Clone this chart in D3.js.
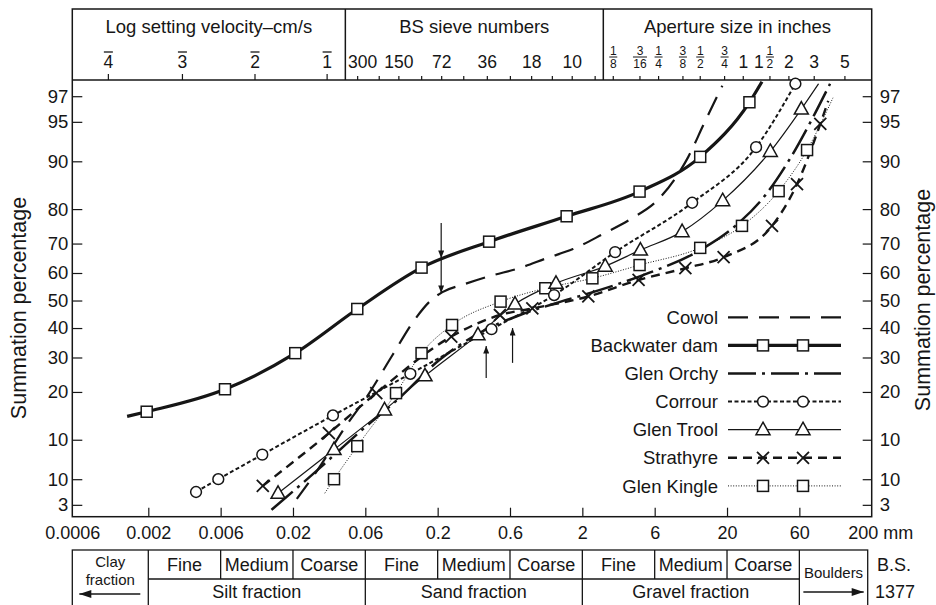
<!DOCTYPE html>
<html>
<head>
<meta charset="utf-8">
<script src="https://cdn.jsdelivr.net/npm/d3@7"></script>
<style>
  html, body { margin: 0; padding: 0; background: #fff; }
  svg text { font-family: "Liberation Sans", Arial, Helvetica, sans-serif; fill: #161616; }
</style>
</head>
<body>
<svg id="chart" width="936" height="605"></svg>
<script>
// ---------- axis values ----------
const sizeTicks = [0.0006, 0.002, 0.006, 0.02, 0.06, 0.2, 0.6, 2, 6, 20, 60, 200];        // mm
const sizeTickLabels = ["0.0006", "0.002", "0.006", "0.02", "0.06", "0.2", "0.6", "2", "6", "20", "60", "200 mm"];
const pctTicks = [97, 95, 90, 80, 70, 60, 50, 40, 30, 20, 10, 5, 3];
const pctTickLabels = ["97", "95", "90", "80", "70", "60", "50", "40", "30", "20", "10", "10", "3"];

// log10 of settling velocity (cm/s) for quartz in water
const velocityExponents = [-4, -3, -2, -1];
const velocityLabels = ["4", "3", "2", "1"];

// BS sieve numbers and their apertures (mm)
const sieveNumbers = [300, 200, 150, 100, 72, 52, 36, 25, 18, 14, 10, 7];
const sieveApertures = [0.053, 0.075, 0.104, 0.152, 0.211, 0.295, 0.422, 0.599, 0.853, 1.204, 1.676, 2.411];
const sieveLabelled = [300, 150, 72, 36, 18, 10];

// aperture sizes in inches
const apertureInches = [0.125, 0.1875, 0.25, 0.375, 0.5, 0.75, 1, 1.5, 2, 3, 5];
const apertureWhole = ["", "", "", "", "", "", "1", "1", "2", "3", "5"];
const apertureNum   = ["1", "3", "1", "3", "1", "3", "", "1", "", "", ""];
const apertureDen   = ["8", "16", "4", "8", "2", "4", "", "2", "", "", ""];

// BS 1377 classification
const classFractions = ["Silt fraction", "Sand fraction", "Gravel fraction"];
const classSubdivisions = ["Fine", "Medium", "Coarse"];

// ---------- grading curves: particle size (mm) and summation percentage ----------
const seriesNames = ["Cowol", "Backwater dam", "Glen Orchy", "Corrour", "Glen Trool", "Strathyre", "Glen Kingle"];

const cowolSize = [0.0212, 0.0291, 0.0452, 0.0613, 0.0944, 0.136, 0.180, 0.215, 0.301, 0.442, 0.709, 1.11, 1.71, 2.74, 4.27, 6.28, 8.47, 10.5, 13.5, 18.5];
const cowolPct  = [3.4, 5.95, 12.6, 18.7, 30.8, 42.9, 50.2, 53.1, 56.0, 58.9, 61.8, 65.2, 68.2, 73.0, 77.6, 82.2, 87.0, 90.7, 94.7, 97.6];

const backwaterSize = [0.00143, 0.00195, 0.00645, 0.0207, 0.0531, 0.153, 0.437, 1.54, 4.77, 12.8, 28.1, 34.0];
const backwaterPct  = [14.3, 15.3, 20.7, 31.4, 46.9, 61.9, 70.6, 78.1, 84.2, 90.7, 96.6, 97.8];
const backwaterMarks = [1, 2, 3, 4, 5, 6, 7, 8, 9, 10];

const orchySize = [0.0140, 0.0291, 0.055, 0.106, 0.205, 0.379, 0.709, 1.38, 2.62, 4.83, 12.8, 22.7, 35.8, 52.3, 74.4, 100];
const orchyPct  = [2.7, 5.95, 11.3, 18.5, 29.2, 38.3, 44.7, 49.5, 53.9, 58.9, 67.9, 75.4, 83.4, 90.5, 95.3, 97.7];

const corrourSize = [0.00413, 0.00579, 0.0120, 0.0367, 0.127, 0.453, 1.25, 3.29, 11.2, 31.1, 56.5];
const corrourPct  = [3.9, 5.0, 7.8, 14.5, 25.0, 39.6, 52.0, 67.2, 81.6, 92.1, 97.7];
const corrourMarks = [0, 1, 2, 3, 4, 5, 6, 7, 8, 9, 10];

const troolSize = [0.0156, 0.0373, 0.0826, 0.162, 0.369, 0.652, 1.29, 2.83, 4.83, 9.47, 18.6, 38.6, 62.0, 82.6];
const troolPct  = [3.8, 8.5, 15.7, 24.4, 37.6, 48.7, 56.3, 62.4, 67.9, 73.7, 82.1, 91.5, 96.1, 97.7];
const troolMarks = [0, 1, 2, 3, 4, 5, 6, 7, 8, 9, 10, 11, 12];

const strathyreSize = [0.0121, 0.0345, 0.072, 0.246, 0.515, 0.870, 2.19, 4.70, 10.0, 18.9, 39.6, 57.9, 85.0, 97.0];
const strathyrePct  = [4.4, 11.1, 19.7, 37.0, 44.7, 47.1, 51.5, 57.5, 61.7, 65.5, 75.4, 85.8, 94.8, 96.7];
const strathyreMarks = [0, 1, 2, 3, 4, 5, 6, 7, 8, 9, 10, 11, 12];

const kingleSize = [0.0324, 0.0373, 0.0531, 0.100, 0.153, 0.249, 0.520, 1.08, 2.33, 4.77, 12.8, 25.1, 43.8, 68.2, 105];
const kinglePct  = [3.8, 5.0, 9.0, 19.7, 31.4, 41.1, 49.6, 54.5, 58.1, 62.8, 68.6, 75.4, 84.3, 91.7, 96.9];
const kingleMarks = [1, 2, 3, 4, 5, 6, 7, 8, 9, 10, 11, 12, 13];

// arrows marking sieve sizes on the curves
const arrowSize = [0.211, 0.418, 0.626];
const arrowFrom = [76.2, 23.8, 28.3];
const arrowTo   = [52.8, 33.8, 40.0];
const arrowMid  = [65.2, null, null];

// ---------- layout ----------
const frame = { left: 72.3, right: 871.7, top: 9, axisTop: 80, bottom: 516.7 };
const ink = "#161616";

// size axis: wider first interval, equal spacing between the remaining ticks
const firstGap = 76;
const step = (frame.right - frame.left - firstGap) / (sizeTicks.length - 2);
const xRange = sizeTicks.map((d, i) => i === 0 ? frame.left : frame.left + firstGap + (i - 1) * step);
const x = d3.scaleLog().domain(sizeTicks).range(xRange);

// probability (normal) scale for the percentages
function probit(p) {
  const a = [-3.969683028665376e+01, 2.209460984245205e+02, -2.759285104469687e+02, 1.383577518672690e+02, -3.066479806614716e+01, 2.506628277459239e+00];
  const b = [-5.447609879822406e+01, 1.615858368580409e+02, -1.556989798598866e+02, 6.680131188771972e+01, -1.328068155288572e+01];
  const c = [-7.784894002430293e-03, -3.223964580411365e-01, -2.400758277161838e+00, -2.549732539343734e+00, 4.374664141464968e+00, 2.938163982698783e+00];
  const d = [7.784695709041462e-03, 3.224671290700398e-01, 2.445134137142996e+00, 3.754408661907416e+00];
  const pl = 0.02425, ph = 1 - pl;
  let q, r;
  if (p < pl) {
    q = Math.sqrt(-2 * Math.log(p));
    return (((((c[0]*q+c[1])*q+c[2])*q+c[3])*q+c[4])*q+c[5]) / ((((d[0]*q+d[1])*q+d[2])*q+d[3])*q+1);
  }
  if (p <= ph) {
    q = p - 0.5; r = q * q;
    return (((((a[0]*r+a[1])*r+a[2])*r+a[3])*r+a[4])*r+a[5])*q / (((((b[0]*r+b[1])*r+b[2])*r+b[3])*r+b[4])*r+1);
  }
  q = Math.sqrt(-2 * Math.log(1 - p));
  return -(((((c[0]*q+c[1])*q+c[2])*q+c[3])*q+c[4])*q+c[5]) / ((((d[0]*q+d[1])*q+d[2])*q+d[3])*q+1);
}
const y = d3.scaleLinear().domain([-1.99, 2.03]).range([frame.bottom, frame.axisTop]);
const yPct = p => y(probit(p / 100));

const svg = d3.select("#chart");
const defs = svg.append("defs");
defs.append("clipPath").attr("id", "plotClip").append("rect")
  .attr("x", frame.left).attr("y", frame.axisTop)
  .attr("width", frame.right - frame.left).attr("height", frame.bottom - frame.axisTop);
defs.append("marker").attr("id", "headSmall").attr("viewBox", "0 0 10 8")
  .attr("refX", 10).attr("refY", 4).attr("markerWidth", 9).attr("markerHeight", 6)
  .attr("markerUnits", "userSpaceOnUse").attr("orient", "auto")
  .append("path").attr("d", "M0,0 L10,4 L0,8 Z").attr("fill", ink);
defs.append("marker").attr("id", "headTable").attr("viewBox", "0 0 12 8")
  .attr("refX", 12).attr("refY", 4).attr("markerWidth", 13).attr("markerHeight", 8)
  .attr("markerUnits", "userSpaceOnUse").attr("orient", "auto")
  .append("path").attr("d", "M0,0 L12,4 L0,8 Z").attr("fill", ink);

// ---------- frame ----------
const frameG = svg.append("g").attr("stroke", ink).attr("stroke-width", 1.5).attr("fill", "none");
frameG.append("rect").attr("x", frame.left).attr("y", frame.top)
  .attr("width", frame.right - frame.left).attr("height", frame.bottom - frame.top);
frameG.append("line").attr("x1", frame.left).attr("x2", frame.right)
  .attr("y1", frame.axisTop).attr("y2", frame.axisTop);
const sectionBreaks = [0.0443, 2.75];
sectionBreaks.forEach(s => frameG.append("line")
  .attr("x1", x(s)).attr("x2", x(s)).attr("y1", frame.top).attr("y2", frame.axisTop));

const sectionEdges = [frame.left, x(sectionBreaks[0]), x(sectionBreaks[1]), frame.right];
const sectionTitles = ["Log setting velocity\u2013cm/s", "BS sieve numbers", "Aperture size in inches"];
sectionTitles.forEach((t, i) => svg.append("text")
  .attr("x", (sectionEdges[i] + sectionEdges[i + 1]) / 2).attr("y", 33)
  .attr("text-anchor", "middle").style("font-size", "18.5px").text(t));

function styleAxis(g, size) {
  g.attr("color", ink);
  g.select(".domain").remove();
  g.selectAll(".tick line").attr("stroke-width", 1.2);
  g.selectAll("text").style("font-size", size + "px");
}

// ---------- lower size axis ----------
const bottomAxis = svg.append("g").attr("transform", `translate(0,${frame.bottom})`)
  .call(d3.axisBottom(x).tickValues(sizeTicks).tickFormat((d, i) => sizeTickLabels[i])
    .tickSizeInner(-9).tickSizeOuter(0).tickPadding(10));
styleAxis(bottomAxis, 18);
bottomAxis.selectAll(".tick").filter((d, i) => i === 0).select("line").remove();
bottomAxis.selectAll(".tick").filter((d, i) => i === sizeTicks.length - 1)
  .select("text").attr("text-anchor", "start").attr("x", -24);
bottomAxis.selectAll(".tick").filter((d, i) => i === sizeTicks.length - 1).select("line").remove();

// ---------- percentage axes ----------
const zTicks = pctTicks.map(p => probit(p / 100));
const leftAxis = svg.append("g").attr("transform", `translate(${frame.left},0)`)
  .call(d3.axisLeft(y).tickValues(zTicks).tickFormat((d, i) => pctTickLabels[i])
    .tickSizeInner(-10).tickSizeOuter(0).tickPadding(4));
styleAxis(leftAxis, 18.5);
const rightAxis = svg.append("g").attr("transform", `translate(${frame.right},0)`)
  .call(d3.axisRight(y).tickValues(zTicks).tickFormat((d, i) => pctTickLabels[i])
    .tickSizeInner(-9).tickSizeOuter(0).tickPadding(8));
styleAxis(rightAxis, 18.5);

svg.append("text").attr("transform", "translate(26,308) rotate(-90)")
  .attr("text-anchor", "middle").style("font-size", "21.5px").text("Summation percentage");
svg.append("text").attr("transform", "translate(930,300) rotate(-90)")
  .attr("text-anchor", "middle").style("font-size", "21.5px").text("Summation percentage");

// ---------- upper axes ----------
// Stokes settling: v (cm/s) = 90 * d(mm)^2
const velocitySizes = velocityExponents.map(k => Math.sqrt(Math.pow(10, k) / 90));
const velAxis = svg.append("g").attr("transform", `translate(0,${frame.axisTop})`)
  .call(d3.axisTop(x).tickValues(velocitySizes).tickFormat((d, i) => velocityLabels[i])
    .tickSizeInner(6).tickSizeOuter(0).tickPadding(6));
styleAxis(velAxis, 17.5);
velAxis.selectAll(".tick").append("line")
  .attr("x1", -4.5).attr("x2", 4.5).attr("y1", -28).attr("y2", -28)
  .attr("stroke", ink).attr("stroke-width", 1.3);

const sieveAxis = svg.append("g").attr("transform", `translate(0,${frame.axisTop})`)
  .call(d3.axisTop(x).tickValues(sieveApertures)
    .tickFormat((d, i) => sieveLabelled.includes(sieveNumbers[i]) ? String(sieveNumbers[i]) : "")
    .tickSizeInner(4).tickSizeOuter(0).tickPadding(8));
styleAxis(sieveAxis, 17.5);
sieveAxis.selectAll(".tick").filter((d, i) => i === 0).select("text").attr("x", 5);

const apertureMm = apertureInches.map(v => v * 25.4);
const apAxis = svg.append("g").attr("transform", `translate(0,${frame.axisTop})`)
  .call(d3.axisTop(x).tickValues(apertureMm).tickFormat("")
    .tickSizeInner(4).tickSizeOuter(0));
styleAxis(apAxis, 17.5);
apAxis.selectAll(".tick").each(function (d, i) {
  const t = d3.select(this);
  const hasFrac = apertureNum[i] !== "";
  const hasWhole = apertureWhole[i] !== "";
  if (hasWhole) {
    t.append("text").attr("x", hasFrac ? -11 : 0).attr("y", -12)
      .attr("text-anchor", "middle").style("font-size", "17.5px").attr("fill", ink).text(apertureWhole[i]);
  }
  if (hasFrac) {
    const w = apertureDen[i].length > 1 ? 7 : 4;
    t.append("text").attr("x", 0).attr("y", -25).attr("text-anchor", "middle")
      .style("font-size", "12px").text(apertureNum[i]);
    t.append("line").attr("x1", -w).attr("x2", w).attr("y1", -23).attr("y2", -23)
      .attr("stroke", ink).attr("stroke-width", 1);
    t.append("text").attr("x", 0).attr("y", -12).attr("text-anchor", "middle")
      .style("font-size", "12px").text(apertureDen[i]);
  }
});

// ---------- curves ----------
const seriesStyle = {
  "Cowol":         { width: 2.2, dash: "20,11",      marker: null },
  "Backwater dam": { width: 3.2, dash: null,         marker: "square" },
  "Glen Orchy":    { width: 2.5, dash: "28,6,3,6",   marker: null },
  "Corrour":       { width: 2.0, dash: "4,2.5",      marker: "circle" },
  "Glen Trool":    { width: 1.2, dash: null,         marker: "triangle" },
  "Strathyre":     { width: 2.4, dash: "9,6",        marker: "cross" },
  "Glen Kingle":   { width: 1.0, dash: "1,1.6",      marker: "square" }
};

const series = [
  { name: "Cowol",         size: cowolSize,     pct: cowolPct,     marks: [] },
  { name: "Backwater dam", size: backwaterSize, pct: backwaterPct, marks: backwaterMarks },
  { name: "Glen Orchy",    size: orchySize,     pct: orchyPct,     marks: [] },
  { name: "Corrour",       size: corrourSize,   pct: corrourPct,   marks: corrourMarks },
  { name: "Glen Trool",    size: troolSize,     pct: troolPct,     marks: troolMarks },
  { name: "Strathyre",     size: strathyreSize, pct: strathyrePct, marks: strathyreMarks },
  { name: "Glen Kingle",   size: kingleSize,    pct: kinglePct,    marks: kingleMarks }
];

function drawMarker(g, type, cx, cy) {
  const common = sel => sel.attr("fill", "#fff").attr("stroke", ink).attr("stroke-width", 1.5);
  if (type === "square") {
    common(g.append("rect").attr("x", cx - 5.5).attr("y", cy - 5.5).attr("width", 11).attr("height", 11));
  } else if (type === "circle") {
    common(g.append("circle").attr("cx", cx).attr("cy", cy).attr("r", 5.4));
  } else if (type === "triangle") {
    common(g.append("path").attr("d", `M${cx},${cy - 7.5}L${cx + 7},${cy + 5}L${cx - 7},${cy + 5}Z`));
  } else if (type === "cross") {
    g.append("path").attr("d", `M${cx - 6},${cy - 6}L${cx + 6},${cy + 6}M${cx + 6},${cy - 6}L${cx - 6},${cy + 6}`)
      .attr("fill", "none").attr("stroke", ink).attr("stroke-width", 1.8);
  }
}

const line = d3.line().x(d => x(d[0])).y(d => yPct(d[1])).curve(d3.curveMonotoneX);
const plot = svg.append("g").attr("clip-path", "url(#plotClip)");
const drawOrder = ["Glen Kingle", "Glen Trool", "Corrour", "Strathyre", "Glen Orchy", "Cowol", "Backwater dam"];
drawOrder.forEach(name => {
  const s = series.find(d => d.name === name);
  const st = seriesStyle[name];
  const pts = s.size.map((v, i) => [v, s.pct[i]]);
  plot.append("path").datum(pts).attr("d", line)
    .attr("fill", "none").attr("stroke", ink).attr("stroke-width", st.width)
    .attr("stroke-dasharray", st.dash).attr("stroke-linejoin", "round");
});
const markG = svg.append("g");
drawOrder.forEach(name => {
  const s = series.find(d => d.name === name);
  const st = seriesStyle[name];
  s.marks.forEach(i => drawMarker(markG, st.marker, x(s.size[i]), yPct(s.pct[i])));
});

// ---------- arrows ----------
const arrowG = svg.append("g").attr("stroke", ink).attr("stroke-width", 1.2);
arrowSize.forEach((s, i) => {
  const ax = x(s);
  if (arrowMid[i] !== null) {
    arrowG.append("line").attr("x1", ax).attr("x2", ax)
      .attr("y1", yPct(arrowFrom[i])).attr("y2", yPct(arrowMid[i])).attr("marker-end", "url(#headSmall)");
    arrowG.append("line").attr("x1", ax).attr("x2", ax)
      .attr("y1", yPct(arrowMid[i])).attr("y2", yPct(arrowTo[i])).attr("marker-end", "url(#headSmall)");
  } else {
    arrowG.append("line").attr("x1", ax).attr("x2", ax)
      .attr("y1", yPct(arrowFrom[i])).attr("y2", yPct(arrowTo[i])).attr("marker-end", "url(#headSmall)");
  }
});

// ---------- legend ----------
const legend = { textX: 718, lineX1: 728, lineX2: 841, y0: 317.3, dy: 28.1 };
seriesNames.forEach((name, i) => {
  const st = seriesStyle[name];
  const ly = legend.y0 + i * legend.dy;
  svg.append("text").attr("x", legend.textX).attr("y", ly).attr("dy", "0.36em")
    .attr("text-anchor", "end").style("font-size", "18.5px").text(name);
  svg.append("line").attr("x1", legend.lineX1).attr("x2", legend.lineX2).attr("y1", ly).attr("y2", ly)
    .attr("stroke", ink).attr("stroke-width", st.width).attr("stroke-dasharray", st.dash);
  if (st.marker) {
    drawMarker(svg, st.marker, legend.lineX1 + 35, ly);
    drawMarker(svg, st.marker, legend.lineX1 + 75, ly);
  }
});

// ---------- BS 1377 classification table ----------
const tbl = { top: 550, mid: 579, bottom: 607, left: x(sizeTicks[0]), right: x(sizeTicks[11]) - 4 };
const tg = svg.append("g").attr("stroke", ink).attr("stroke-width", 1.3).attr("fill", "none");
tg.append("rect").attr("x", tbl.left).attr("y", tbl.top)
  .attr("width", tbl.right - tbl.left).attr("height", tbl.bottom - tbl.top);
tg.append("line").attr("x1", x(sizeTicks[1])).attr("x2", x(sizeTicks[10]))
  .attr("y1", tbl.mid).attr("y2", tbl.mid);
sizeTicks.slice(1, 11).forEach((s, i) => {
  const full = (i % 3 === 0);
  tg.append("line").attr("x1", x(s)).attr("x2", x(s))
    .attr("y1", tbl.top).attr("y2", full ? tbl.bottom : tbl.mid);
});
// subdivision and fraction labels
for (let f = 0; f < 3; f++) {
  for (let k = 0; k < 3; k++) {
    const a = sizeTicks[1 + f * 3 + k], b = sizeTicks[2 + f * 3 + k];
    svg.append("text").attr("x", (x(a) + x(b)) / 2).attr("y", 571)
      .attr("text-anchor", "middle").style("font-size", "18px").text(classSubdivisions[k]);
  }
  const a = sizeTicks[1 + f * 3], b = sizeTicks[4 + f * 3];
  svg.append("text").attr("x", (x(a) + x(b)) / 2).attr("y", 598)
    .attr("text-anchor", "middle").style("font-size", "18px").text(classFractions[f]);
}
const clayX = (x(sizeTicks[0]) + x(sizeTicks[1])) / 2;
svg.append("text").attr("x", clayX).attr("y", 567).attr("text-anchor", "middle")
  .style("font-size", "15px").text("Clay");
svg.append("text").attr("x", clayX).attr("y", 585).attr("text-anchor", "middle")
  .style("font-size", "15px").text("fraction");
svg.append("line").attr("x1", clayX + 30).attr("x2", x(sizeTicks[0]) + 7)
  .attr("y1", 594).attr("y2", 594).attr("stroke", ink).attr("stroke-width", 1.3)
  .attr("marker-end", "url(#headTable)");
const boulderX = (x(sizeTicks[10]) + tbl.right) / 2;
svg.append("text").attr("x", boulderX).attr("y", 578).attr("text-anchor", "middle")
  .style("font-size", "15px").text("Boulders");
svg.append("line").attr("x1", x(sizeTicks[10]) + 4).attr("x2", tbl.right - 4)
  .attr("y1", 592).attr("y2", 592).attr("stroke", ink).attr("stroke-width", 1.3)
  .attr("marker-end", "url(#headTable)");
svg.append("text").attr("x", 894).attr("y", 571).attr("text-anchor", "middle")
  .style("font-size", "18px").text("B.S.");
svg.append("text").attr("x", 895).attr("y", 598).attr("text-anchor", "middle")
  .style("font-size", "18px").text("1377");
</script>
</body>
</html>
